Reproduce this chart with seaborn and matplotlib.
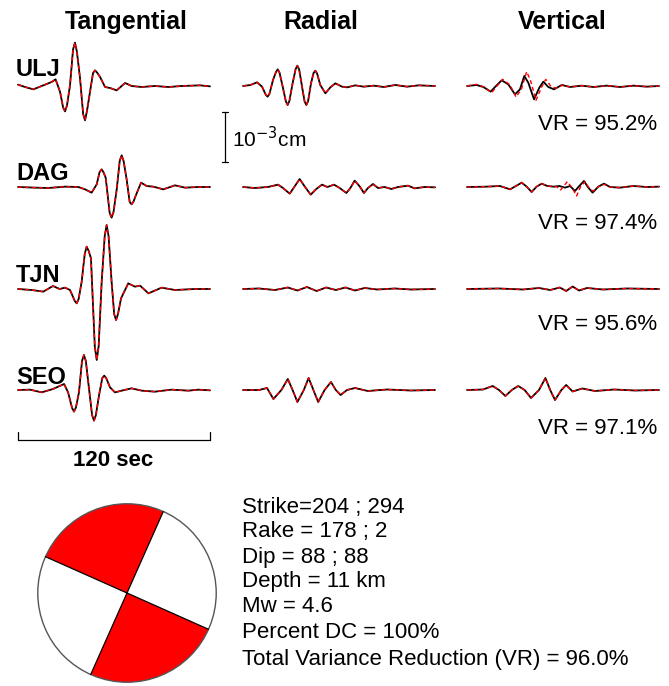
import numpy as np
import pandas as pd
import matplotlib
matplotlib.use("Agg")
import matplotlib.pyplot as plt
from matplotlib.patches import Circle, Wedge
import seaborn as sns

W, H = 669, 686

stations = ["ULJ", "DAG", "TJN", "SEO"]
components = ["Tangential", "Radial", "Vertical"]
vr_values = [95.2, 97.4, 95.6, 97.1]
total_vr = 96.0

strikes = [204, 294]
rakes = [178, 2]
dips = [88, 88]
depth_km = 11
mw = 4.6
percent_dc = 100

# waveforms: (time in s, displacement in 1e-4 cm)
ulj_tan = [(0, 0.27), (4.4, -0.2), (9.6, -0.67), (14.8, 0), (21, 0.8), (23.5, 1.33),
           (26.3, -1.2), (28.2, -4.3), (29.4, -5.07), (30.6, -3.9), (32.5, 0.13),
           (34.4, 7.3), (35.6, 8.67), (36.8, 6.9), (38.8, 1.47), (40.7, -5.6),
           (41.9, -6.87), (43.1, -5.0), (45, -1.2), (46.9, 2.6), (48.1, 3.13),
           (49.4, 2.7), (51.3, 1.8), (54.4, -0.2), (57.5, -0.4), (61.7, -0.87),
           (66.9, 0.6), (71, 0), (77.3, -0.2), (85.6, 0), (94, -0.2), (102.3, 0),
           (113.8, 0.13), (120, -0.07)]
dag_tan = [(0, 0), (10.6, -0.13), (19, -0.2), (29.4, 0.07), (37.7, 0), (41.9, -0.47),
           (46, -1.13), (49.2, 0.53), (51.0, 3.0), (52.3, 3.53), (53.5, 2.9),
           (54.8, 1.87), (57.3, -5.2), (58.5, -6.13), (59.7, -5.0), (61.7, -0.47),
           (63.6, 5.3), (64.8, 6.33), (66.0, 5.2), (67.9, 1.53), (69.8, -3.0),
           (71, -3.47), (72.2, -2.9), (73.5, -1.8), (76.9, 0.87), (80.4, 0.2),
           (84.6, 0.07), (90.8, -0.47), (98.1, 0.33), (104.4, -0.13), (112.7, 0), (120, 0)]
tjn_tan = [(0, 0), (8.5, -0.2), (15.8, -0.53), (21.9, 0.6), (26, 0), (29.4, 0.27),
           (32.5, -0.2), (35.5, -2.4), (36.7, -2.87), (37.9, -2.0), (39.8, 1.47),
           (41.7, 7.0), (42.9, 8.47), (44.2, 7.6), (45.6, 6.13), (48.0, -11.5),
           (49.2, -14.2), (50.4, -11.5), (52.3, 1.47), (54.2, 10.6), (55.4, 12.8),
           (56.6, 10.6), (58.5, 1.47), (60.1, -5.0), (61.3, -6.2), (62.5, -5.0),
           (64.4, -1.87), (68.9, 1.13), (73.1, 0.47), (76.3, 0.67), (81.5, -0.87),
           (89.8, 0.27), (98.1, -0.2), (110.6, 0), (120, 0)]
seo_tan = [(0, 0), (7.5, 0.07), (14.8, -0.47), (21.9, 0.2), (28.8, 1.2), (31.3, -0.47),
           (33.8, -3.6), (35, -4.33), (36.2, -3.5), (38.1, -0.47), (40.0, 5.8),
           (41.2, 7.0), (42.4, 5.8), (44.4, 0.2), (46.3, -5.0), (47.5, -6.13),
           (48.7, -5.0), (50.6, -1.13), (52.7, 2.4), (53.9, 2.87), (55.1, 2.4),
           (57.5, 0.53), (60.6, -0.47), (64.8, -0.13), (71, 0.33), (77.3, -0.13),
           (85.6, -0.33), (96, 0.07), (106.5, -0.13), (112.7, 0.07), (120, -0.07)]

ulj_rad = [(0, 0), (4.6, 0.2), (8.75, 0.73), (11.9, -0.13), (14.3, -1.8), (15.4, -2.13),
           (16.5, -1.6), (18.75, 1.2), (20.6, 2.8), (21.7, 3.33), (22.8, 2.7),
           (24.8, -0.13), (26.8, -3.1), (27.9, -3.8), (29.0, -3.0), (31, 0.53),
           (32.9, 3.4), (34, 4.07), (35.1, 3.3), (36.9, -0.13), (38.5, -3.1),
           (39.6, -3.8), (40.7, -3.0), (42.5, 0.53), (44.1, 2.6), (45.2, 3.07),
           (46.3, 2.5), (48.3, 0.2), (51.5, -1.47), (54.6, -0.27), (57.7, 0.53),
           (61.9, -0.13), (65, -0.27), (70.2, 0.13), (75.4, -0.13), (81.7, 0.07),
           (87.9, -0.2), (95.2, 0.2), (102.5, -0.13), (109.8, 0.13), (120, 0)]
dag_rad = [(0, 0), (7.3, -0.2), (15.6, 0), (21.9, 0.47), (25, -0.2), (29.2, -1.33),
           (32.3, 0.13), (35.4, 1.6), (38.5, 0.13), (42.3, -1.53), (45.8, -0.4),
           (49.4, 0.47), (52.7, 0), (56.9, 0.47), (60.4, -0.2), (64.6, -1.2),
           (67.1, -0.2), (69.8, 1.27), (72.9, 0.13), (75.6, -1.2), (78.1, -0.2),
           (81.25, 0.6), (84.4, -0.2), (88.5, 0), (92.7, -0.4), (96.9, 0),
           (103.1, 0.27), (107.3, -0.27), (113.5, 0), (120, -0.07)]
tjn_rad = [(0, 0), (10, 0.1), (20, -0.2), (28, 0.3), (34, -0.3), (40, 0.4), (46, -0.4),
           (52, 0.3), (58, -0.2), (64, 0.3), (70, -0.3), (76, 0.2), (84, -0.1),
           (95, 0.1), (105, -0.1), (120, 0)]
seo_rad = [(0, 0), (10, 0), (15, 0.4), (19, -1.8), (24, 0), (28, 2.2), (31, 0),
           (34, -2.4), (38, 0), (41, 2.4), (44, 0), (47, -2.4), (51, 0), (55, 1.6),
           (58, 0), (61, -1.0), (65, 0), (70, 0.4), (78, -0.2), (90, 0.1), (105, -0.1),
           (120, 0)]

ulj_ver = [(0, 0), (6, 0.2), (10.2, -0.2), (14.8, -1.13), (18.1, 0), (21.7, 1.13),
           (25.8, 0.33), (30, -1.67), (33.1, -0.67), (35.8, 2), (38.3, 0.67),
           (41.9, -2.67), (45.2, -0.33), (47.7, 0.87), (50.8, -0.2), (54.4, -0.67),
           (59.2, 0.2), (64.4, -0.2), (71.7, 0.07), (79, -0.2), (87.3, 0.07),
           (95.6, -0.2), (104, 0.07), (112.3, -0.13), (120, 0)]
dag_ver = [(0, 0), (12.3, 0.07), (20.6, 0.2), (26.9, -0.47), (30.6, 0.2), (34.2, 0.87),
           (37.3, 0.07), (40.4, -1.0), (43.5, 0.07), (46.7, 0.67), (50.2, 0.2),
           (54, 0.07), (57.7, 0.2), (61.3, -0.13), (64.4, 0.2), (67.5, -0.8),
           (70.2, 0.2), (73.1, 1.2), (75.8, -0.13), (78.5, -1.13), (82.1, 0.07),
           (85.6, 0.67), (89.4, 0), (95.6, -0.13), (104, 0.2), (112.3, 0), (120, 0.07)]
tjn_ver = [(0, 0), (20, 0.1), (35, -0.1), (45, 0.2), (52, -0.2), (58, 0.3), (62, -0.4),
           (66, 0.5), (70, -0.3), (75, 0.2), (85, -0.1), (100, 0.1), (120, 0)]
seo_ver = [(0, 0), (10, 0.1), (16, 0.8), (20, 0), (24, -1.2), (28, 0), (32, 0.8),
           (36, 0), (40, -1.6), (45, 0), (49, 2.4), (52, 0), (55, -2), (59, 0),
           (62, 1.0), (66, -0.3), (72, 0.3), (80, -0.2), (92, 0.1), (105, -0.1),
           (120, 0)]

# synthetics that differ visibly from the data
ulj_ver_syn = [(0, 0), (6, 0.33), (10.6, -0.2), (15.4, -1.33), (18.75, 0), (22.3, 1.33),
               (26.9, 0.2), (30.6, -2.2), (34, -0.67), (37.3, 2.87), (39.8, 1.0),
               (43.1, -2.87), (46.5, -0.33), (49.2, 1.33), (52.3, 0), (55.6, -0.47),
               (59.8, 0.2), (64.4, -0.2), (71.7, 0.07), (79, -0.2), (87.3, 0.07),
               (95.6, -0.2), (104, 0.07), (112.3, -0.13), (120, 0)]
dag_ver_syn = [(0, 0), (12.3, 0.07), (20.6, 0.2), (26.9, -0.47), (30.6, 0.2), (34.2, 0.87),
               (37.3, 0.07), (40.4, -1.0), (43.5, 0.07), (46.7, 0.67), (50.2, 0.2),
               (54, 0.07), (56, 0.07), (58.5, -0.6), (62.7, 1.07), (65.6, -0.13),
               (68.5, -1.8), (71, 0.07), (73.75, 1.07), (76.9, -0.47), (79, -0.8),
               (82.1, 0.07), (85.6, 0.53), (89.4, 0), (95.6, -0.13), (104, 0.2),
               (112.3, 0), (120, 0.07)]

observed = {
    ("ULJ", "Tangential"): ulj_tan, ("ULJ", "Radial"): ulj_rad, ("ULJ", "Vertical"): ulj_ver,
    ("DAG", "Tangential"): dag_tan, ("DAG", "Radial"): dag_rad, ("DAG", "Vertical"): dag_ver,
    ("TJN", "Tangential"): tjn_tan, ("TJN", "Radial"): tjn_rad, ("TJN", "Vertical"): tjn_ver,
    ("SEO", "Tangential"): seo_tan, ("SEO", "Radial"): seo_rad, ("SEO", "Vertical"): seo_ver,
}
synthetic = dict(observed)
synthetic[("ULJ", "Vertical")] = ulj_ver_syn
synthetic[("DAG", "Vertical")] = dag_ver_syn

# layout (pixels of the 669x686 picture)
px_per_s = 1.6
px_per_amp = 5.0
x0_px, y0_px = 18, 86
col_px = {"Tangential": 18, "Radial": 243, "Vertical": 467}
row_px = {"ULJ": 86, "DAG": 187, "TJN": 289, "SEO": 390}


def fx(px):
    return px / W


def fy(py):
    return 1 - py / H


def to_long(traces, kind):
    rows = []
    for (sta, comp), pts in traces.items():
        for t, a in pts:
            rows.append({"station": sta, "component": comp, "kind": kind, "t": t, "amp": a})
    return pd.DataFrame(rows)


df = pd.concat([to_long(observed, "obs"), to_long(synthetic, "syn")], ignore_index=True)
df["x"] = df["t"] + (df["component"].map(col_px) - x0_px) / px_per_s
df["y"] = df["amp"] - (df["station"].map(row_px) - y0_px) / px_per_amp

sns.set_style("white")
plt.rcParams["font.family"] = ["Liberation Sans", "DejaVu Sans"]
plt.rcParams["text.color"] = "black"

fig = plt.figure(figsize=(W / 100, H / 100), dpi=100)
ax = fig.add_axes([0, 0, 1, 1])
ax.set_xlim(-x0_px / px_per_s, (W - x0_px) / px_per_s)
ax.set_ylim((y0_px - H) / px_per_amp, y0_px / px_per_amp)
ax.axis("off")

for (sta, comp), sub in df.groupby(["station", "component"]):
    obs = sub[sub["kind"] == "obs"]
    syn = sub[sub["kind"] == "syn"]
    sns.lineplot(data=obs, x="x", y="y", sort=False, estimator=None, color="black",
                 lw=1.3, solid_joinstyle="round", ax=ax)
    sns.lineplot(data=syn, x="x", y="y", sort=False, estimator=None, color="red",
                 lw=1.0, linestyle=(0, (3, 2)), ax=ax)

# amplitude scale bar: 1e-3 cm = 10 units of 1e-4 cm
bar_amp = 10
bx = (225 - x0_px) / px_per_s
by_top = (y0_px - 112) / px_per_amp
ax.plot([bx, bx], [by_top, by_top - bar_amp], color="black", lw=0.9)
for yy in (by_top, by_top - bar_amp):
    ax.plot([bx - 1.8, bx + 1.8], [yy, yy], color="black", lw=0.9)
fig.text(fx(232), fy(139), r"10$^{-3}$cm", fontsize=15, ha="left", va="center")

# time scale bar: 120 s
bar_t = 120
ty = (y0_px - 440) / px_per_amp
ax.plot([0, bar_t], [ty, ty], color="black", lw=0.9)
for xx in (0, bar_t):
    ax.plot([xx, xx], [ty, ty + 1.6], color="black", lw=0.9)
fig.text(fx(113), fy(461), f"{bar_t} sec", fontsize=16, fontweight="bold",
         ha="center", va="center")

# titles and labels
title_x = {"Tangential": 126, "Radial": 321, "Vertical": 562}
for comp in components:
    fig.text(fx(title_x[comp]), fy(22), comp, fontsize=18, fontweight="bold",
             ha="center", va="center")
label_y = {"ULJ": 70, "DAG": 174, "TJN": 276, "SEO": 378}
vr_y = {"ULJ": 125, "DAG": 224, "TJN": 325, "SEO": 428}
for sta, vr in zip(stations, vr_values):
    fig.text(fx(16), fy(label_y[sta]), sta, fontsize=17, fontweight="bold",
             ha="left", va="center")
    fig.text(fx(657), fy(vr_y[sta]), f"VR = {vr:.1f}%", fontsize=16,
             ha="right", va="center")

# focal mechanism text
info = [
    f"Strike={strikes[0]} ; {strikes[1]}",
    f"Rake = {rakes[0]} ; {rakes[1]}",
    f"Dip = {dips[0]} ; {dips[1]}",
    f"Depth = {depth_km} km",
    f"Mw = {mw}",
    f"Percent DC = {percent_dc}%",
    f"Total Variance Reduction (VR) = {total_vr:.1f}%",
]
info_y = [507, 532, 557, 582, 607, 632, 659]
for line, yy in zip(info, info_y):
    fig.text(fx(242), fy(yy), line, fontsize=16, ha="left", va="center")

# beach ball (strike-slip, quadrants bounded by the two strikes)
cx, cy, r = 127, 593, 91
bb = fig.add_axes([fx(cx - r), fy(cy + r), 2 * r / W, 2 * r / H])
bb.set_xlim(-1.02, 1.02)
bb.set_ylim(-1.02, 1.02)
bb.set_aspect("equal")
bb.axis("off")
bb.add_patch(Circle((0, 0), 1, facecolor="white", edgecolor="none"))
s1, s2 = strikes[0] % 180, strikes[1] % 180
for start in (s2 + 180, s2):
    # azimuth range (clockwise from north) -> matplotlib angles
    a_from, a_to = start, start + (s1 - s2 + 180) % 180
    bb.add_patch(Wedge((0, 0), 1, 90 - a_to, 90 - a_from, facecolor="red",
                       edgecolor="none"))
for s in strikes:
    az = np.deg2rad(s)
    bb.plot([np.sin(az), -np.sin(az)], [np.cos(az), -np.cos(az)], color="black", lw=0.9)
bb.add_patch(Circle((0, 0), 1, facecolor="none", edgecolor="#555555", lw=1.0))

fig.savefig("out.png", dpi=100)
